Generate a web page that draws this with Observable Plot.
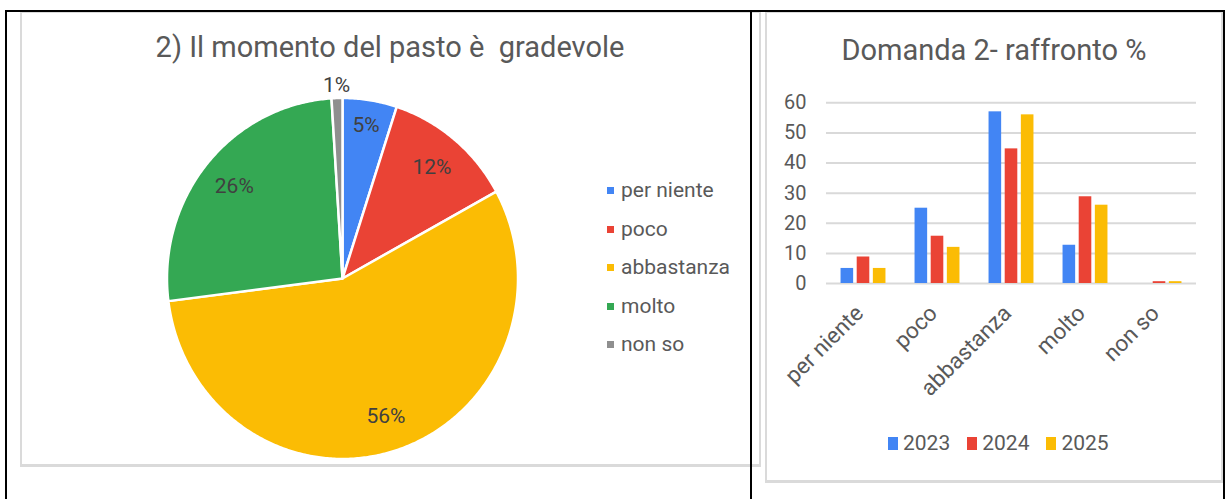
<!DOCTYPE html>
<html><head><meta charset="utf-8">
<script src="https://cdn.jsdelivr.net/npm/d3@7"></script>
<script src="https://cdn.jsdelivr.net/npm/@observablehq/plot@0.6"></script>
<style>
body{margin:0;background:#fff;font-family:Roboto,"Liberation Sans",Arial,sans-serif;}
#root{position:relative;width:1231px;height:499px;overflow:hidden;background:#fff}
.blk{position:absolute;background:#000}
.panel{position:absolute;border:2px solid #dadada;border-bottom-width:3px;box-sizing:border-box;background:#fff}
.title{position:absolute;color:#595959;font-size:29px;line-height:29px;white-space:pre;text-align:center}
.plot{position:absolute}
.leg{position:absolute;color:#595959;font-size:21px;line-height:21px;white-space:nowrap}
.row{position:absolute;left:0;display:flex;align-items:center}
.sw{display:inline-block}
</style></head>
<body><div id="root"></div>
<script>
// ---------- data ----------
const pieCats = ["per niente", "poco", "abbastanza", "molto", "non so"];
const pieValues = [5, 12, 56, 26, 1];
const pieColors = ["#4285f4", "#ea4335", "#fbbc04", "#34a853", "#8f8f8f"];
const pieTitle = "2) Il momento del pasto è  gradevole";

const barCats = ["per niente", "poco", "abbastanza", "molto", "non so"];
const years = ["2023", "2024", "2025"];
const v2023 = [5, 25, 57, 12.7, 0];
const v2024 = [8.8, 15.7, 44.7, 28.8, 0.6];
const v2025 = [5, 12, 56, 26, 0.6];
const yearColors = ["#4285f4", "#ea4335", "#fbbc04"];
const yTicks = [0, 10, 20, 30, 40, 50, 60];
const barTitle = "Domanda 2- raffronto %";

// ---------- layout ----------
const root = d3.select("#root");
root.append("div").attr("class","panel").style("left","20px").style("top","11px").style("width","741px").style("height","456px");
root.append("div").attr("class","panel").style("left","765px").style("top","11px").style("width","458px").style("height","472px");

// ---------- pie ----------
const total = d3.sum(pieValues);
let acc = 0;
const slices = pieCats.map((c, i) => {
  const a0 = acc / total * 2 * Math.PI; acc += pieValues[i];
  const a1 = acc / total * 2 * Math.PI;
  return {cat: c, value: pieValues[i], a0, a1};
});
const pts = slices.flatMap(s => {
  const n = Math.max(2, Math.ceil((s.a1 - s.a0) / 0.01));
  const arr = [{cat: s.cat, x: 0, y: 0}];
  for (let k = 0; k <= n; k++) {
    const a = s.a0 + (s.a1 - s.a0) * k / n;
    arr.push({cat: s.cat, x: Math.sin(a), y: Math.cos(a)});
  }
  arr.push({cat: s.cat, x: 0, y: 0});
  return arr;
});
const labels = slices.map(s => {
  const m = (s.a0 + s.a1) / 2;
  const r = s.value < 3 ? 1.07 : (s.value < 8 ? 0.86 : 0.8);
  return {text: Math.round(s.value) + "%", x: r * Math.sin(m), y: r * Math.cos(m)};
});
const pie = Plot.plot({
  width: 736, height: 451, margin: 0,
  x: {domain: [-1, 1], range: [144.5, 495.5], axis: null},
  y: {domain: [-1, 1], range: [445.5, 84.5], axis: null},
  color: {domain: pieCats, range: pieColors},
  style: {background: "transparent", fontFamily: "Roboto, 'Liberation Sans', Arial, sans-serif"},
  marks: [
    Plot.line(pts, {x: "x", y: "y", z: "cat", fill: "cat", stroke: "#fff", strokeWidth: 2.5, strokeLinejoin: "round", curve: "linear"}),
    Plot.text(labels, {x: "x", y: "y", text: "text", fill: "#404040", fontSize: 21})
  ]
});
root.append(() => pie).attr("class","plot").style("left","22px").style("top","13px");
root.append("div").attr("class","title").style("left","0px").style("width","780px").style("top","33px").text(pieTitle);

const pl = root.append("div").attr("class","leg").style("left","607px").style("top","180px");
pieCats.forEach((c, i) => {
  const r = pl.append("div").attr("class","row").style("top", (i * 38.6) + "px");
  r.append("span").attr("class","sw").style("width","7px").style("height","7px").style("background", pieColors[i]).style("margin-right","7px");
  r.append("span").text(c);
});

// ---------- bars ----------
const barData = barCats.flatMap((c, i) => [
  {cat: c, year: years[0], value: v2023[i]},
  {cat: c, year: years[1], value: v2024[i]},
  {cat: c, year: years[2], value: v2025[i]}
]);
const bar = Plot.plot({
  width: 454, height: 467,
  marginLeft: 58, marginRight: 24, marginTop: 89.3, marginBottom: 197,
  fx: {domain: barCats, padding: 0, label: null},
  x: {domain: years, paddingInner: 0.22, paddingOuter: 0.9, round: false, axis: null},
  y: {domain: [0, 60], axis: null},
  color: {domain: years, range: yearColors},
  style: {background: "transparent", color: "#595959", fontFamily: "Roboto, 'Liberation Sans', Arial, sans-serif"},
  marks: [
    Plot.ruleY(yTicks, {stroke: "#d9d9d9", strokeWidth: 2}),
    Plot.barY(barData, {fx: "cat", x: "year", y: "value", fill: "year"}),
    Plot.axisY(yTicks, {tickSize: 0, tickPadding: 20, fontSize: 20, label: null}),
    Plot.axisFx({tickRotate: -45, tickSize: 0, tickPadding: 26, dx: -4, fontSize: 22.5, label: null, anchor: "bottom"})
  ]
});
root.append(() => bar).attr("class","plot").style("left","767px").style("top","13px");
root.append("div").attr("class","title").style("left","765px").style("width","458px").style("top","36px").text(barTitle);

const bl = root.append("div").attr("class","leg").style("left","888px").style("top","433px").style("display","flex").style("align-items","center");
years.forEach((y, i) => {
  bl.append("span").attr("class","sw").style("width","10px").style("height","13px").style("background", yearColors[i]).style("margin-right","5px");
  bl.append("span").text(y).style("margin-right", i < 2 ? "17px" : "0");
});

// ---------- table borders ----------
root.append("div").attr("class","blk").style("left","5px").style("top","10px").style("width","1220px").style("height","2px");
root.append("div").attr("class","blk").style("left","5px").style("top","10px").style("width","2px").style("height","489px");
root.append("div").attr("class","blk").style("left","750px").style("top","10px").style("width","2px").style("height","489px");
root.append("div").attr("class","blk").style("left","1223px").style("top","10px").style("width","2px").style("height","489px");
</script></body></html>
